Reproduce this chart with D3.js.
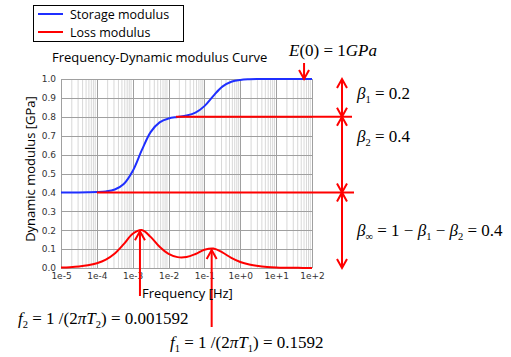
<!DOCTYPE html>
<html><head><meta charset="utf-8">
<script src="https://cdn.jsdelivr.net/npm/d3@7"></script>
<style>
body{margin:0;background:#fff;}
svg{display:block;}
.tick text{font-family:"DejaVu Sans",sans-serif;}
</style>
</head><body>
<svg id="c" width="511" height="357"></svg>
<script>
// ---- data ----
const logFreq = [-5,-4.75,-4.5,-4.25,-4,-3.75,-3.5,-3.25,-3,-2.75,-2.5,-2.25,-2,-1.75,-1.5,-1.25,-1,-0.75,-0.5,-0.25,0,0.25,0.5,0.75,1,1.25,1.5,1.75,2];
const storage = [0.400,0.400,0.400,0.4005,0.4016,0.4049,0.4152,0.4444,0.5132,0.622,0.7192,0.7706,0.7909,0.7993,0.8066,0.8219,0.8565,0.911,0.9595,0.9852,0.9951,0.9984,0.9995,0.9998,1.0,1.0,1.0,1.0,1.0];
const loss = [0.0025,0.0045,0.008,0.0142,0.0252,0.0443,0.0768,0.1263,0.1814,0.201,0.1647,0.1119,0.0746,0.0576,0.0583,0.0741,0.0964,0.103,0.0824,0.0536,0.0317,0.0181,0.0102,0.0058,0.0032,0.0018,0.001,0.0006,0.0003];
const xTickLabels = ["1e-5","1e-4","1e-3","1e-2","1e-1","1e+0","1e+1","1e+2"];
const yTicks = [0,0.1,0.2,0.3,0.4,0.5,0.6,0.7,0.8,0.9,1.0];
const seriesNames = ["Storage modulus","Loss modulus"];
const seriesColors = ["#1f2fff","#ff0000"];
const relaxFreq = [0.001592, 0.1592];     // f2, f1
const relaxPeak = [0.2, 0.1];
const refLevels = [0.4, 0.8];             // beta_inf, beta_inf+beta_2
const refStart = [1e-4, 0.016];
const bracketLevels = [1.0, 0.8, 0.4, 0.0];
const e0Freq = 60;

// ---- layout ----
const svg = d3.select("#c");
const x = d3.scaleLog().domain([1e-5,1e2]).range([61,312]);
const y = d3.scaleLinear().domain([0,1]).range([268,79]);
const red = "#ff0000";

// grid
const g = svg.append("g");
const minors = [];
for (let d=-5; d<2; d++) for (let m=2; m<10; m++) minors.push(m*Math.pow(10,d));
g.selectAll(".mn").data(minors).enter().append("line")
  .attr("x1",d=>x(d)).attr("x2",d=>x(d)).attr("y1",y(0)).attr("y2",y(1))
  .attr("stroke","#d8d8d8").attr("stroke-width",1);
const majors = d3.range(-5,3).map(e=>Math.pow(10,e));
g.selectAll(".mj").data(majors).enter().append("line")
  .attr("x1",d=>Math.round(x(d))+0.5).attr("x2",d=>Math.round(x(d))+0.5).attr("y1",y(0)).attr("y2",y(1))
  .attr("stroke","#a0a0a0").attr("stroke-width",1);
g.selectAll(".hz").data(yTicks).enter().append("line")
  .attr("x1",x(1e-5)).attr("x2",x(1e2)).attr("y1",d=>Math.round(y(d))+0.5).attr("y2",d=>Math.round(y(d))+0.5)
  .attr("stroke","#a0a0a0").attr("stroke-width",1);

// axes
const xAxis = d3.axisBottom(x).tickValues(majors).tickSize(0).tickPadding(5)
  .tickFormat((d,i)=>xTickLabels[i]);
svg.append("g").attr("transform",`translate(0,${y(0)})`).call(xAxis)
  .call(a=>a.select(".domain").remove())
  .selectAll("text").attr("font-size","9px").attr("fill","#333");
const yAxis = d3.axisLeft(y).tickValues(yTicks).tickSize(0).tickPadding(5).tickFormat(d3.format(".1f"));
svg.append("g").attr("transform",`translate(${x(1e-5)},0)`).call(yAxis)
  .call(a=>a.select(".domain").remove())
  .selectAll("text").attr("font-size","9px").attr("fill","#333");

// curves
const line = d3.line().x(d=>x(Math.pow(10,d[0]))).y(d=>y(d[1])).curve(d3.curveCatmullRom);
svg.append("path").datum(logFreq.map((l,i)=>[l,storage[i]]))
  .attr("d",line).attr("fill","none").attr("stroke",seriesColors[0]).attr("stroke-width",2);
svg.append("path").datum(logFreq.map((l,i)=>[l,loss[i]]))
  .attr("d",line).attr("fill","none").attr("stroke",seriesColors[1]).attr("stroke-width",2);

// reference horizontal lines
const refEnd = [354, 352];
refLevels.forEach((v,i)=>{
  svg.append("line").attr("x1",x(refStart[i])).attr("x2",refEnd[i])
    .attr("y1",y(v)).attr("y2",y(v)).attr("stroke",red).attr("stroke-width",2);
});

// arrowhead helper (open V), tip at (tx,ty), direction dir: -1 up, +1 down
function head(tx,ty,dir){
  svg.append("path").attr("d",`M${tx-5},${ty-dir*9}L${tx},${ty}L${tx+5},${ty-dir*9}`)
    .attr("fill","none").attr("stroke",red).attr("stroke-width",2);
}
// bracket arrows on right
const bx = 342;
for (let i=0;i<bracketLevels.length-1;i++){
  const y1 = y(bracketLevels[i]), y2 = y(bracketLevels[i+1]);
  svg.append("line").attr("x1",bx).attr("x2",bx).attr("y1",y1).attr("y2",y2)
    .attr("stroke",red).attr("stroke-width",2);
  head(bx,y1,-1); head(bx,y2,1);
}
// E(0) arrow
svg.append("line").attr("x1",x(e0Freq)).attr("x2",x(e0Freq)).attr("y1",63).attr("y2",y(1))
  .attr("stroke",red).attr("stroke-width",2);
head(x(e0Freq),y(1),1);
// peak arrows
const arrowBottoms = [296, 327];
relaxFreq.forEach((f,i)=>{
  svg.append("line").attr("x1",x(f)).attr("x2",x(f)).attr("y1",y(relaxPeak[i])+1).attr("y2",arrowBottoms[i])
    .attr("stroke",red).attr("stroke-width",2);
  head(x(f),y(relaxPeak[i])+1,-1);
});

// legend
const sans = "'Open Sans','Noto Sans',sans-serif";
svg.append("rect").attr("x",33.5).attr("y",5.5).attr("width",150).attr("height",36)
  .attr("fill","#fff").attr("stroke","#000").attr("stroke-width",1);
seriesNames.forEach((n,i)=>{
  const ly = 14 + i*18;
  svg.append("line").attr("x1",38).attr("x2",63).attr("y1",ly).attr("y2",ly)
    .attr("stroke",seriesColors[i]).attr("stroke-width",2);
  svg.append("text").attr("x",70).attr("y",ly+5).text(n)
    .attr("font-family",sans).attr("font-size","12.5px").attr("fill","#000");
});

// titles
svg.append("text").attr("x",52).attr("y",62).text("Frequency-Dynamic modulus Curve")
  .attr("font-family",sans).attr("font-size","13px").attr("fill","#000");
svg.append("text").attr("x",142).attr("y",298).text("Frequency [Hz]")
  .attr("font-family",sans).attr("font-size","13px").attr("fill","#000");
svg.append("text").attr("transform","translate(35,169) rotate(-90)").attr("text-anchor","middle")
  .text("Dynamic modulus [GPa]").attr("font-family",sans).attr("font-size","13px").attr("fill","#000");

// math annotations
const serif = "'Liberation Serif','DejaVu Serif',serif";
function mathText(xp, yp, parts, size){
  const t = svg.append("text").attr("x",xp).attr("y",yp).attr("font-family",serif)
    .attr("font-size",size+"px").attr("fill","#000");
  parts.forEach(p=>{
    const s = t.append("tspan").text(p.t);
    if (p.i) s.attr("font-style","italic");
    if (p.sub) s.attr("font-size",(size*0.62)+"px").attr("dy",size*0.22);
    if (p.up) s.attr("dy",-size*0.22);
  });
  return t;
}
mathText(289,56,[{t:"E",i:1},{t:"(0) = 1"},{t:"GPa",i:1}],17);
mathText(357,99,[{t:"β",i:1},{t:"1",sub:1},{t:" = 0.2",up:1}],17);
mathText(357,142,[{t:"β",i:1},{t:"2",sub:1},{t:" = 0.4",up:1}],17);
mathText(357,236,[{t:"β",i:1},{t:"∞",sub:1},{t:" = 1 − ",up:1},{t:"β",i:1},{t:"1",sub:1},{t:" − ",up:1},{t:"β",i:1},{t:"2",sub:1},{t:" = 0.4",up:1}],17);
mathText(18,324,[{t:"f",i:1},{t:"2",sub:1},{t:" = 1 /(2",up:1},{t:"πT",i:1},{t:"2",sub:1},{t:") = 0.001592",up:1}],17);
mathText(170,348,[{t:"f",i:1},{t:"1",sub:1},{t:" = 1 /(2",up:1},{t:"πT",i:1},{t:"1",sub:1},{t:") = 0.1592",up:1}],17);
</script>
</body></html>
